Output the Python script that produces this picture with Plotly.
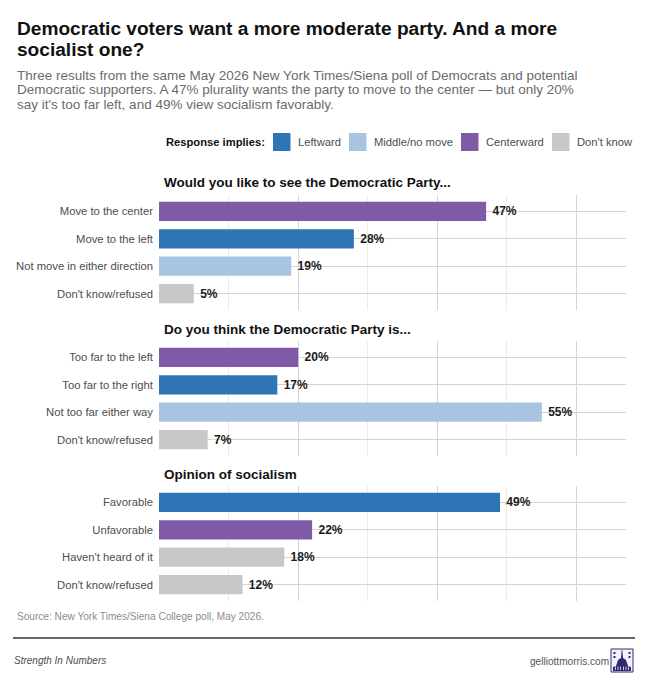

import plotly.graph_objects as go

FONT = "Liberation Sans"
W, H = 648, 680

# colours by what the response implies
IMPLIES = ["Leftward", "Middle/no move", "Centerward", "Don't know"]
IMPLIES_COLORS = ["#2e75b6", "#a9c4e0", "#7f5aa6", "#c8c8c8"]

QUESTIONS = ["Would you like to see the Democratic Party...",
             "Do you think the Democratic Party is...",
             "Opinion of socialism"]

q1_labels = ["Move to the center", "Move to the left", "Not move in either direction", "Don't know/refused"]
q1_values = [47, 28, 19, 5]
q1_groups = ["Centerward", "Leftward", "Middle/no move", "Don't know"]

q2_labels = ["Too far to the left", "Too far to the right", "Not too far either way", "Don't know/refused"]
q2_values = [20, 17, 55, 7]
q2_groups = ["Centerward", "Leftward", "Middle/no move", "Don't know"]

q3_labels = ["Favorable", "Unfavorable", "Haven't heard of it", "Don't know/refused"]
q3_values = [49, 22, 18, 12]
q3_groups = ["Leftward", "Centerward", "Don't know", "Don't know"]

TITLE = ["Democratic voters want a more moderate party. And a more", "socialist one?"]
SUBTITLE = ["Three results from the same May 2026 New York Times/Siena poll of Democrats and potential",
            "Democratic supporters. A 47% plurality wants the party to move to the center \u2014 but only 20%",
            "say it's too far left, and 49% view socialism favorably."]
SOURCE = "Source: New York Times/Siena College poll, May 2026."


def px(x):
    return x / W


def py(y):
    return 1 - y / H


def add_text(fig, x, y, text, size, color, anchor="left", bold=False, italic=False):
    # annotations carry a small padding, so pull them back to the wanted edge
    x = x - 2 if anchor == "left" else x + 2
    if bold:
        text = f"<b>{text}</b>"
    if italic:
        text = f"<i>{text}</i>"
    fig.add_annotation(x=px(x), y=py(y), xref="paper", yref="paper", text=text, showarrow=False,
                       xanchor=anchor, yanchor="middle", align="left",
                       font=dict(family=FONT, size=size, color=color))


fig = go.Figure()

color_of = dict(zip(IMPLIES, IMPLIES_COLORS))
panels = [(q1_labels, q1_values, q1_groups, 195, 310),
          (q2_labels, q2_values, q2_groups, 341, 456),
          (q3_labels, q3_values, q3_groups, 486, 601)]

for i, (labels, values, groups, top, bottom) in enumerate(panels):
    n = "" if i == 0 else str(i + 1)
    fig.add_trace(go.Bar(
        y=labels, x=values, orientation="h", xaxis=f"x{n}", yaxis=f"y{n}",
        width=0.7,
        marker=dict(color=[color_of[g] for g in groups], line=dict(width=0)),
        text=[f"\u00a0{v}%" for v in values], textposition="outside", cliponaxis=False,
        textfont=dict(family=FONT, size=12, color="#1a1a1a", weight="bold"),
        showlegend=False, hoverinfo="skip",
    ))
    fig.update_layout({
        f"xaxis{n}": dict(domain=[px(159), px(626)], range=[0, 67.1], anchor=f"y{n}",
                          dtick=20, showticklabels=False, showgrid=True, gridcolor="#d4d4d4",
                          gridwidth=1, zeroline=False, showline=False,
                          minor=dict(dtick=10, showgrid=True, gridcolor="#ebebeb", gridwidth=1)),
        f"yaxis{n}": dict(domain=[py(bottom), py(top)], range=[3.6, -0.6], anchor=f"x{n}",
                          showgrid=True, gridcolor="#d4d4d4", gridwidth=1, showline=False,
                          zeroline=False, ticks="", ticklabelstandoff=5,
                          tickfont=dict(family=FONT, size=11.25, color="#4d4d4d")),
    })
    add_text(fig, 164, top - 12, QUESTIONS[i], 13.5, "#111111", bold=True)

# header
for line, y in zip(TITLE, [29, 50]):
    add_text(fig, 17, y, line, 19.1, "#111111", bold=True)
for line, y in zip(SUBTITLE, [75, 90, 104]):
    add_text(fig, 17, y, line, 13.5, "#6b6b6b")

# legend key
add_text(fig, 166, 142, "Response implies:", 11.2, "#111111", bold=True)
swatch_x = [273, 349, 461, 552]
for name, col, x in zip(IMPLIES, IMPLIES_COLORS, swatch_x):
    fig.add_shape(type="rect", xref="paper", yref="paper", x0=px(x), x1=px(x + 17.5),
                  y0=py(151), y1=py(133), fillcolor=col, line_width=0)
    add_text(fig, x + 25, 142, name, 11.2, "#4d4d4d")

# footer
add_text(fig, 17, 616, SOURCE, 10.1, "#8c8c8c")
fig.add_shape(type="line", xref="paper", yref="paper", x0=px(13), x1=px(635), y0=py(638), y1=py(638),
              line=dict(color="#333333", width=1.5))
add_text(fig, 14, 660, "Strength In Numbers", 10, "#4d4d4d", italic=True)
add_text(fig, 609, 661, "gelliottmorris.com", 10.1, "#555555", anchor="right")

# capitol logo
NAVY = "#2e2a72"
fig.add_shape(type="rect", xref="paper", yref="paper", x0=px(611), x1=px(633), y0=py(672), y1=py(649),
              fillcolor="#f2f2f8", line=dict(color=NAVY, width=1))
fig.add_shape(type="path", xref="paper", yref="paper", fillcolor=NAVY, line_width=0,
              path=(f"M {px(613)} {py(671)} L {px(631)} {py(671)} L {px(631)} {py(667)} L {px(628)} {py(666)} "
                    f"L {px(626)} {py(660)} L {px(623)} {py(658)} L {px(622.3)} {py(650)} L {px(621.7)} {py(650)} "
                    f"L {px(621)} {py(658)} L {px(618)} {py(660)} L {px(616)} {py(666)} L {px(613)} {py(667)} Z"))
for x in [615.5, 618, 620.5, 623.5, 626, 628.5]:
    fig.add_shape(type="line", xref="paper", yref="paper", x0=px(x), x1=px(x), y0=py(670), y1=py(666.5),
                  line=dict(color="#f2f2f8", width=0.8))
for x, y in [(614.5, 653), (614.5, 657), (629.5, 653), (629.5, 657)]:
    fig.add_shape(type="rect", xref="paper", yref="paper", x0=px(x - 1), x1=px(x + 1), y0=py(y + 1), y1=py(y - 1),
                  fillcolor=NAVY, line_width=0)

fig.update_layout(
    width=W, height=H, margin=dict(l=0, r=0, t=0, b=0),
    paper_bgcolor="white", plot_bgcolor="white",
    font=dict(family=FONT),
)

fig.write_html("out.html", config=dict(displayModeBar=False),
               post_script="document.body.style.margin='0';")
